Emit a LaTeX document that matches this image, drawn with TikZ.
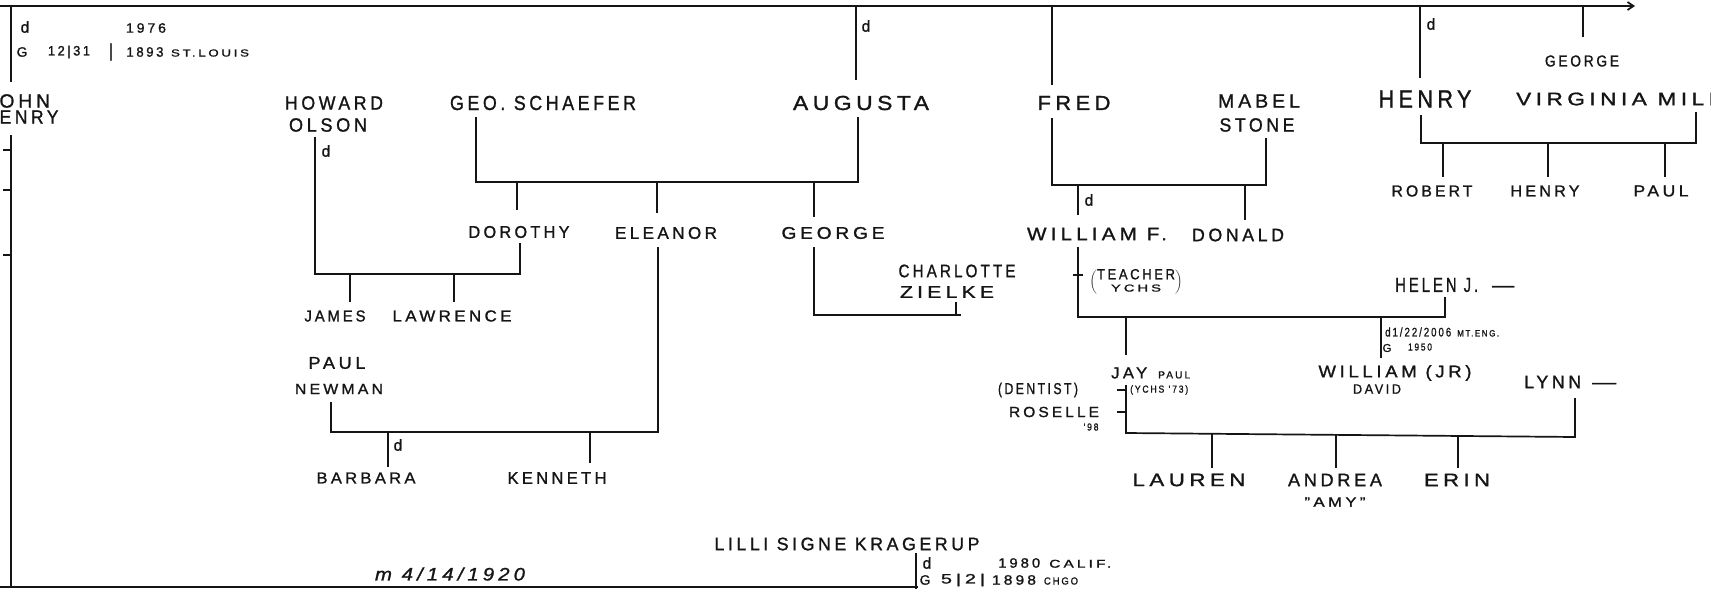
\documentclass[tikz,border=0pt]{standalone}
\usepackage{fontspec}
\setmainfont{Liberation Sans}
\usepackage{graphicx}
\usetikzlibrary{arrows.meta}
\definecolor{ink}{HTML}{151515}
\newcommand\W[2]{\resizebox{#1pt}{\height}{#2}}
\newcommand\hwf[1]{\fontsize{\fpeval{1.13*#1}}{\fpeval{1.13*#1}}\selectfont\addfontfeature{LetterSpace=20,FakeBold=1.2}}
\begin{document}
\begin{tikzpicture}[x=1pt,y=-1pt,
  ln/.style={draw=ink,line width=1.7pt},
  fs/.style={inner sep=0pt,text=ink,anchor=center,font=\hwf{#1}}]
\clip (0,0) rectangle (1711,589);
\fill[white] (0,0) rectangle (1711,589);

% ---------- top generation bar ----------
\draw[ln,-{Straight Barb[length=6pt,width=8pt]}] (0,6) coordinate (T0) -- (1635,6) coordinate (Tend);

% John Henry
\node[fs=14] (dJ) at (25,27) {d};
\node[fs=12] (yJ) at (146,28) {\W{40}{1976}};
\node[fs=12] (gJ) at (22,52) {G};
\node[fs=12] (bJ) at (69,52) {\W{42}{12|31}};
\node[fs=16] (sJ) at (111,52) {|};
\node[fs=12] (yrJ) at (145,52) {\W{37}{1893}};
\node[fs=9] (pJ) at (210,53) {\W{78}{ST.LOUIS}};
\node[fs=17] (john) at (18,101) {\W{64}{JOHN}};
\node[fs=17] (johnH) at (21,117) {\W{75}{HENRY}};
\draw[ln] (11,6) coordinate (j1) -- (11,82) coordinate (j2);
\draw[ln] (11,135) coordinate (j3) -- (11,587) coordinate (j4);
\foreach \yy in {150,190,255} \draw[ln,line width=1.2pt] (3,\yy) -- (11,\yy);
\draw[ln] (0,587) coordinate (b0) -- (918,587) coordinate (b1);
\node[fs=16] (mdate) at (450,574) {\itshape\W{150}{m 4/14/1920}};

% Lilli
\node[fs=16] (lilli) at (847,544) {\W{265}{LILLI SIGNE KRAGERUP}};
\draw[ln] (916,553) coordinate (l1) -- (916,589) coordinate (l2);
\node[fs=14] (dL) at (927,563) {d};
\node[fs=12,anchor=west] (yL) at (998,563) {\W{42}{1980}\hspace{9pt}{\hwf{10}\W{62}{CALIF.}}};
\node[fs=12] (gL) at (925,580) {G};
\node[fs=12] (bL) at (963,580) {\W{44}{5|2|}};
\node[fs=12] (yrL) at (1014,580) {\W{44}{1898}};
\node[fs=9] (pL) at (1061,581) {\W{34}{CHGO}};

% ---------- Augusta / Geo. Schaefer ----------
\node[fs=18] (augusta) at (861,103) {\W{136}{AUGUSTA}};
\node[fs=14] (dA) at (866,26) {d};
\draw[ln] (856,6) coordinate (a1) -- (856,80) coordinate (a2);
\node[fs=18] (geo) at (543,103) {\W{186}{GEO. SCHAEFER}};
\draw[ln] (476,117) coordinate (g1) -- (476,182) -- (858,182) -- (858,117) coordinate (a3);
\draw[ln] (517,182) -- (517,210) coordinate (do1);
\draw[ln] (657,182) -- (657,213) coordinate (el1);
\draw[ln] (814,182) -- (814,217) coordinate (ge1);
\node[fs=15] (dorothy) at (519,232) {\W{101}{DOROTHY}};
\node[fs=15] (eleanor) at (666,233) {\W{102}{ELEANOR}};
\node[fs=15] (georgeS) at (833,233) {\W{103}{GEORGE}};

% Howard Olson + Dorothy
\node[fs=17] (howard) at (334,103) {\W{98}{HOWARD}};
\node[fs=17] (olson) at (328,125) {\W{78}{OLSON}};
\node[fs=14] (dHo) at (326,151) {d};
\draw[ln] (315,137) coordinate (h1) -- (315,274) -- (520,274) -- (520,243) coordinate (do2);
\draw[ln] (350,274) -- (350,302) coordinate (ja1);
\draw[ln] (454,274) -- (454,302) coordinate (la1);
\node[fs=14] (james) at (335,316) {\W{61}{JAMES}};
\node[fs=14] (lawrence) at (452,316) {\W{119}{LAWRENCE}};

% Paul Newman + Eleanor
\node[fs=15] (paulN) at (337,363) {\W{57}{PAUL}};
\node[fs=13] (newman) at (339,389) {\W{88}{NEWMAN}};
\draw[ln] (658,247) coordinate (el2) -- (658,432) -- (331,432) -- (331,402) coordinate (pn1);
\draw[ln] (388,432) -- (388,467) coordinate (ba1);
\node[fs=14] (dB) at (398,445) {d};
\draw[ln] (590,432) -- (590,463) coordinate (ke1);
\node[fs=14] (barbara) at (366,478) {\W{99}{BARBARA}};
\node[fs=15] (kenneth) at (557,478) {\W{99}{KENNETH}};

% George + Charlotte
\node[fs=16] (charlotte) at (957,271) {\W{117}{CHARLOTTE}};
\node[fs=15] (zielke) at (947,292) {\W{94}{ZIELKE}};
\draw[ln] (814,247) coordinate (ge2) -- (814,315) -- (961,315);
\draw[ln] (956,302) coordinate (ch1) -- (956,315);

% ---------- Fred / Mabel ----------
\node[fs=18] (fred) at (1074,103) {\W{73}{FRED}};
\draw[ln] (1052,6) coordinate (f1) -- (1052,85) coordinate (f2);
\node[fs=17] (mabel) at (1259,101) {\W{82}{MABEL}};
\node[fs=17] (stone) at (1257,125) {\W{75}{STONE}};
\draw[ln] (1052,118) coordinate (f3) -- (1052,185) -- (1266,185) -- (1266,138) coordinate (m1);
\draw[ln] (1078,185) -- (1078,215) coordinate (w1);
\node[fs=14] (dW) at (1089,200) {d};
\draw[ln] (1245,185) -- (1245,220) coordinate (dn1);
\node[fs=16] (william) at (1097,234) {\W{140}{WILLIAM F.}};
\node[fs=16] (donald) at (1238,235) {\W{92}{DONALD}};
\node[fs=10] (teacher) at (1136,282) {$\left(\begin{tabular}{@{}c@{}}{\hwf{13}\W{78}{TEACHER}}\\[1pt]{\hwf{9}\W{50}{YCHS}}\end{tabular}\right)$};

% William F. + Helen J.
\node[fs=18,anchor=west] (helen) at (1395,285) {\W{83}{HELEN J.}\hspace{14pt}\W{22}{—}};
\draw[ln] (1078,247) coordinate (w2) -- (1078,317) -- (1445,317) -- (1445,297) coordinate (he1);
\draw[ln,line width=1.2pt] (1073,275) -- (1083,275);
\draw[ln] (1126,317) -- (1126,355) coordinate (jp1);
\draw[ln] (1381,317) -- (1381,358) coordinate (wj1);
\node[fs=11,anchor=west] (dJr) at (1385,332) {\W{66}{d1/22/2006}\hspace{6pt}{\hwf{8}\W{42}{MT.ENG.}}};
\node[fs=10] (gJr) at (1387,348) {G};
\node[fs=9] (yJr) at (1420,347) {\W{24}{1950}};

% Jay Paul + Lynn
\node[fs=14,anchor=west] (jay) at (1111,373) {\W{36}{JAY}\hspace{11pt}{\hwf{9}\W{32}{PAUL}}};
\node[fs=14] (dentist) at (1038,390) {\W{80}{(DENTIST)}};
\node[fs=9,anchor=west] (ychs) at (1130,390) {\W{58}{(YCHS '73)}};
\node[fs=13] (roselle) at (1054,412) {\W{90}{ROSELLE}};
\node[fs=9] (r98) at (1091,427) {\W{15}{'98}};
\node[fs=15] (williamJr) at (1395,373) {\W{153}{WILLIAM (JR)}};
\node[fs=12] (david) at (1377,389) {\W{48}{DAVID}};
\node[fs=16,anchor=west] (lynn) at (1524,382) {\W{57}{LYNN}\hspace{11pt}\W{24}{—}};
\draw[ln] (1126,385) coordinate (jp2) -- (1126,433) -- (1575,437) -- (1575,398) coordinate (ly1);
\draw[ln,line width=1.2pt] (1117,390) -- (1126,390);
\draw[ln,line width=1.2pt] (1117,412) -- (1126,412);
\draw[ln] (1212,434) -- (1212,468) coordinate (lu1);
\draw[ln] (1336,435) -- (1336,468) coordinate (an1);
\draw[ln] (1458,436) -- (1458,468) coordinate (er1);
\node[fs=16] (lauren) at (1189,480) {\W{113}{LAUREN}};
\node[fs=16] (andrea) at (1335,480) {\W{94}{ANDREA}};
\node[fs=12] (amy) at (1335,502) {\W{61}{"AMY"}};
\node[fs=16] (erin) at (1457,480) {\W{66}{ERIN}};

% ---------- Henry / Virginia ----------
\node[fs=22] (henry) at (1425,99) {\W{93}{HENRY}};
\node[fs=14] (dH) at (1431,24) {d};
\draw[ln] (1420,6) coordinate (hn1) -- (1420,78) coordinate (hn2);
\node[fs=16,anchor=west] (virginia) at (1516,99) {\W{205}{VIRGINIA MILL}};
\draw[ln] (1421,115) coordinate (hn3) -- (1421,143) -- (1696,143) -- (1696,112) coordinate (vi1);
\draw[ln] (1443,143) -- (1443,177) coordinate (ro1);
\draw[ln] (1548,143) -- (1548,177) coordinate (hc1);
\draw[ln] (1665,143) -- (1665,177) coordinate (pa1);
\node[fs=14] (robert) at (1432,191) {\W{81}{ROBERT}};
\node[fs=14] (henryC) at (1545,191) {\W{69}{HENRY}};
\node[fs=14] (paulC) at (1661,191) {\W{55}{PAUL}};

% George (top)
\draw[ln] (1583,6) coordinate (gt1) -- (1583,37) coordinate (gt2);
\node[fs=14] (georgeT) at (1582,61) {\W{74}{GEORGE}};
\end{tikzpicture}
\end{document}
